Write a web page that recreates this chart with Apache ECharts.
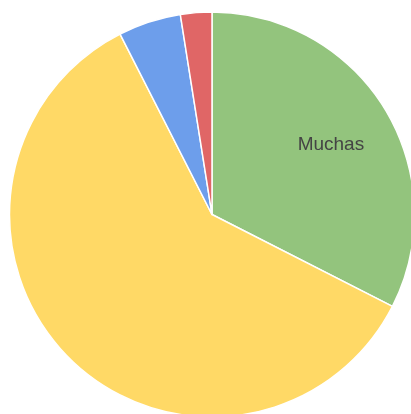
<!DOCTYPE html>
<html>
<head>
<meta charset="utf-8">
<script src="https://cdn.jsdelivr.net/npm/echarts@6/dist/echarts.min.js"></script>
<style>
  html, body { margin: 0; padding: 0; background: #fff; }
  #chart { width: 411px; height: 414px; }
</style>
</head>
<body>
<div id="chart"></div>
<script>
// respuestas y conteos
const categories = ["Muchas", "Algunas", "Pocas", "Ninguna"];
const counts = [13, 24, 2, 1];
const colors = ["#93c47d", "#ffd966", "#6d9eeb", "#e06666"];
const labelled = ["Muchas"];

const chart = echarts.init(document.getElementById("chart"));

const data = categories.map((name, i) => ({
  name: name,
  value: counts[i],
  itemStyle: { color: colors[i] }
}));

// second, invisible pie only for placing the label a bit further out
const labelData = categories.map((name, i) => ({
  name: name,
  value: counts[i],
  label: { show: labelled.indexOf(name) >= 0 }
}));

chart.setOption({
  animation: false,
  series: [
    {
      type: "pie",
      center: [212, 214.5],
      radius: [0, 202.5],
      startAngle: 90,
      clockwise: true,
      silent: true,
      label: { show: false },
      labelLine: { show: false },
      itemStyle: { borderColor: "#fff", borderWidth: 1.5 },
      data: data
    },
    {
      type: "pie",
      center: [212, 214.5],
      radius: [0, 270],
      startAngle: 89,
      clockwise: true,
      silent: true,
      itemStyle: { color: "rgba(0,0,0,0)" },
      label: {
        position: "inside",
        formatter: "{b}",
        color: "#444",
        fontSize: 19,
        fontFamily: "Liberation Sans, Arial, sans-serif"
      },
      labelLine: { show: false },
      data: labelData
    }
  ]
});
</script>
</body>
</html>
